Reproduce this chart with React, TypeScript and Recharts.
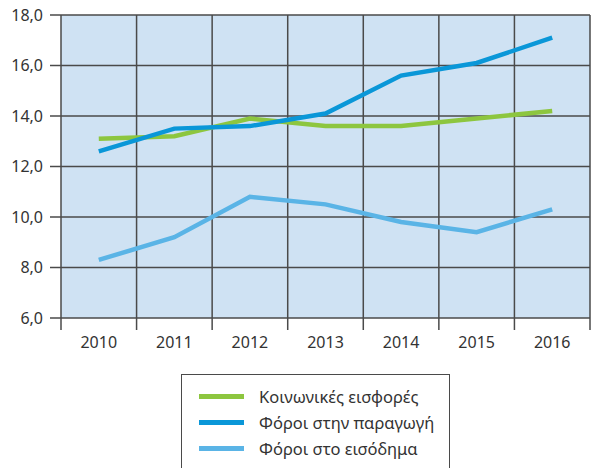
import React from "react";
import { ComposedChart, Line, XAxis, YAxis, CartesianGrid, Legend } from "recharts";

const years = ["2010", "2011", "2012", "2013", "2014", "2015", "2016"];
const koinonikes = [13.1, 13.2, 13.9, 13.6, 13.6, 13.9, 14.2];
const paragogi = [12.6, 13.5, 13.6, 14.1, 15.6, 16.1, 17.1];
const eisodima = [8.3, 9.2, 10.8, 10.5, 9.8, 9.4, 10.3];
const yTicks = [6, 8, 10, 12, 14, 16, 18];

const seriesNames = ["Κοινωνικές εισφορές", "Φόροι στην παραγωγή", "Φόροι στο εισόδημα"];
const seriesColors = ["#8DC63F", "#0A97D8", "#5AB4E6"];

const data = years.map((y, i) => ({
  year: y,
  a: koinonikes[i],
  b: paragogi[i],
  c: eisodima[i],
}));

const FONT = "'Noto Sans', 'Open Sans', sans-serif";
const GRID = "#4a4a4a";
const W = 591;
const H = 468;
const M = { top: 15, right: 1, left: 0, bottom: 120 };
const Y_W = 61;
const PLOT_W = W - M.left - M.right - Y_W;
const BAND = PLOT_W / years.length;

const XTick = (props: any) => {
  const { x, y, payload, index } = props;
  const half = BAND / 2;
  const top = y - 19;
  return (
    <g>
      <line x1={x - half} x2={x - half} y1={top} y2={top + 12} stroke={GRID} strokeWidth={1.5} />
      {index === years.length - 1 && (
        <line x1={x + half} x2={x + half} y1={top} y2={top + 12} stroke={GRID} strokeWidth={1.5} />
      )}
      <text x={x} y={y} dy="0.71em" textAnchor="middle" fill="#333" fontSize={16} fontFamily={FONT}>
        {payload.value}
      </text>
    </g>
  );
};

const LegendBox = () => (
  <div
    style={{
      position: "absolute",
      left: 181,
      top: 374,
      width: 269,
      height: 110,
      border: `1.5px solid ${GRID}`,
      fontFamily: FONT,
      fontSize: 16.5,
      color: "#333",
      boxSizing: "border-box",
    }}
  >
    {seriesNames.map((n, i) => (
      <div
        key={n}
        style={{ position: "absolute", left: 17, top: 11 + i * 26, height: 20, display: "flex", alignItems: "center" }}
      >
        <div style={{ width: 45, height: 5, background: seriesColors[i], marginRight: 15 }} />
        <span style={{ whiteSpace: "nowrap" }}>{n}</span>
      </div>
    ))}
  </div>
);

export default function App() {
  return (
    <div style={{ position: "absolute", left: 0, top: 0, width: W, height: H, background: "#fff", overflow: "hidden" }}>
      <ComposedChart width={W} height={H} data={data} margin={M}>
        <CartesianGrid
          stroke={GRID}
          strokeWidth={1.5}
          fill="#CFE2F3"
          fillOpacity={1}
          verticalCoordinatesGenerator={({ offset }: any) =>
            years.map((_, i) => offset.left + ((i + 1) * offset.width) / years.length)
          }
        />
        <XAxis
          dataKey="year"
          scale="band"
          axisLine={false}
          tickLine={false}
          height={30}
          tickSize={12}
          tickMargin={7}
          tick={<XTick />}
          interval={0}
        />
        <YAxis
          domain={[6, 18]}
          ticks={yTicks}
          width={Y_W}
          interval={0}
          allowDataOverflow
          tickFormatter={(v: number) => v.toFixed(1).replace(".", ",")}
          axisLine={{ stroke: GRID, strokeWidth: 1.5 }}
          tickLine={{ stroke: GRID, strokeWidth: 1.5 }}
          tickSize={11}
          tickMargin={7}
          tick={{ fill: "#333", fontSize: 16, fontFamily: FONT }}
        />
        <Line dataKey="a" name={seriesNames[0]} stroke={seriesColors[0]} strokeWidth={4.5} dot={false} isAnimationActive={false} />
        <Line dataKey="b" name={seriesNames[1]} stroke={seriesColors[1]} strokeWidth={4.5} dot={false} isAnimationActive={false} />
        <Line dataKey="c" name={seriesNames[2]} stroke={seriesColors[2]} strokeWidth={4.5} dot={false} isAnimationActive={false} />
        <Legend content={() => null} />
      </ComposedChart>
      <LegendBox />
    </div>
  );
}
